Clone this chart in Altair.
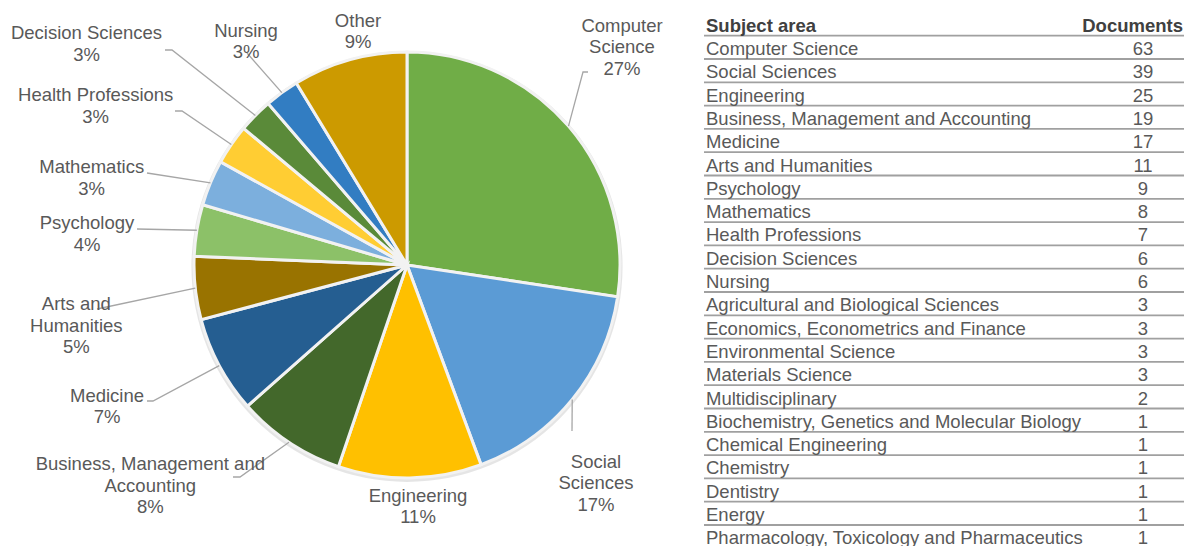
import math
import altair as alt
import pandas as pd

# ---------------- data ----------------
subjects = [
    "Computer Science", "Social Sciences", "Engineering",
    "Business, Management and Accounting", "Medicine", "Arts and Humanities",
    "Psychology", "Mathematics", "Health Professions", "Decision Sciences",
    "Nursing", "Agricultural and Biological Sciences",
    "Economics, Econometrics and Finance", "Environmental Science",
    "Materials Science", "Multidisciplinary",
    "Biochemistry, Genetics and Molecular Biology", "Chemical Engineering",
    "Chemistry", "Dentistry", "Energy",
    "Pharmacology, Toxicology and Pharmaceutics",
]
documents = [63, 39, 25, 19, 17, 11, 9, 8, 7, 6, 6, 3, 3, 3, 3, 2, 1, 1, 1, 1, 1, 1]

N_PIE = 11  # the first 11 subjects get their own slice, the rest form "Other"
pie_names = subjects[:N_PIE] + ["Other"]
pie_counts = documents[:N_PIE] + [sum(documents[N_PIE:])]
pie_label_names = [
    "Computer\nScience", "Social\nSciences", "Engineering",
    "Business, Management and\nAccounting", "Medicine", "Arts and\nHumanities",
    "Psychology", "Mathematics", "Health Professions", "Decision Sciences",
    "Nursing", "Other",
]

# ---------------- style / layout ----------------
pie_colors = ["#70AD47", "#5B9BD5", "#FFC000", "#43682B", "#255E91", "#997300",
              "#8CC168", "#7CAFDD", "#FFCD33", "#5A8A39", "#327DC2", "#CC9A00"]
FONT = "Liberation Sans"
TXT = "#595959"
W, H = 1176, 538
CX, CY, R = 399, 257, 213          # pie centre and radius (px)

# label block placement relative to pie centre (px, first baseline)
label_offset = [(215, -233.5), (189, 202.5), (11, 236.5), (-256.7, 205),
                (-300, 136.7), (-330.7, 45), (-320, -35.7), (-315.3, -91.7),
                (-311.3, -164), (-320.5, -225.7), (-161, -228.3), (-49, -238.3)]
# leader line points on the label side (px, relative to pie centre)
leader_start = [[(181, -193), (176, -193)], [(165, 166)], [],
                [(-174, 212), (-167, 212)], [(-260, 136), (-254, 136)],
                [(-310, 44)], [(-270, -36)], [(-260, -92)],
                [(-232, -154), (-225, -154)], [(-242, -215), (-235, -215)],
                [(-160, -212)], []]

ROW0, ROWH = 17.7, 23.3             # table: header centre and row pitch (px)
COL_SUBJ, COL_DOC = 698, 1135

total = sum(pie_counts)

# ---------------- pie ----------------
pie_df = pd.DataFrame({"subject": pie_names, "count": pie_counts,
                       "order": list(range(len(pie_names)))})

xs = alt.Scale(domain=[-CX / R, (W - CX) / R], nice=False, zero=False)
ys = alt.Scale(domain=[-(H - CY) / R, CY / R], nice=False, zero=False)

shadow = alt.Chart(pd.DataFrame({"count": [total]})).mark_arc(
    radius=R + 2.5, color="#000000", opacity=0.10
).encode(theta=alt.Theta("count:Q"), x=alt.value(CX), y=alt.value(CY + 1.5))

arcs = alt.Chart(pie_df).mark_arc(
    radius=R, stroke="#F2F2F2", strokeWidth=3
).encode(
    theta=alt.Theta("count:Q", stack=True),
    order=alt.Order("order:Q"),
    color=alt.Color("subject:N", scale=alt.Scale(domain=pie_names, range=pie_colors),
                    legend=None),
    x=alt.value(CX), y=alt.value(CY),
)

# leader lines and labels
cum = 0
lead_rows, lab_rows = [], []
for i, (name, c) in enumerate(zip(pie_names, pie_counts)):
    mid = (cum + c / 2) / total * 2 * math.pi
    cum += c
    ex, ey = math.sin(mid), math.cos(mid)          # edge point in radius units
    pts = [(dx / R, -dy / R) for dx, dy in leader_start[i]]
    if pts:
        pts.append((ex, ey))
        for k, (px, py) in enumerate(pts):
            lead_rows.append({"label": name, "k": k, "ux": px, "uy": py})
    pct = round(c / total * 100)
    lx, ly = label_offset[i]
    lab_rows.append({"label": name, "text": f"{pie_label_names[i]}\n{pct}%",
                     "ux": lx / R, "uy": -ly / R})

lead_df = pd.DataFrame(lead_rows)
lab_df = pd.DataFrame(lab_rows)

leaders = alt.Chart(lead_df).mark_line(color="#A6A6A6", strokeWidth=1.3).encode(
    x=alt.X("ux:Q", scale=xs, axis=None),
    y=alt.Y("uy:Q", scale=ys, axis=None),
    detail="label:N",
    order="k:Q",
)

labels = alt.Chart(lab_df).mark_text(
    align="center", baseline="alphabetic", lineBreak="\n", lineHeight=21.6,
    fontSize=18.5, font=FONT, color=TXT
).encode(
    x=alt.X("ux:Q", scale=xs, axis=None),
    y=alt.Y("uy:Q", scale=ys, axis=None),
    text="text:N",
)

pie_layer = alt.layer(shadow, arcs, leaders, labels)

# ---------------- table ----------------
tbl_df = pd.DataFrame({"subject": subjects,
                       "docs": [str(d) for d in documents],
                       "row": list(range(1, len(subjects) + 1))})
hdr_df = pd.DataFrame({"subject": ["Subject area"], "docs": ["Documents"], "row": [0]})
line_df = pd.DataFrame({"line": [r + 0.43 for r in range(0, len(subjects) + 1)]})

ts = alt.Scale(domain=[-ROW0 / ROWH, (H - ROW0) / ROWH], reverse=True, nice=False, zero=False)

rules = alt.Chart(line_df).mark_rule(color="#A0A0A0", strokeWidth=1.8).encode(
    y=alt.Y("line:Q", scale=ts, axis=None),
    x=alt.value(COL_SUBJ - 2), x2=alt.value(W),
)
subj_txt = alt.Chart(tbl_df).mark_text(
    align="left", baseline="middle", dy=0, fontSize=18.5, font=FONT, color=TXT
).encode(y=alt.Y("row:Q", scale=ts, axis=None), x=alt.value(COL_SUBJ), text="subject:N")
doc_txt = alt.Chart(tbl_df).mark_text(
    align="center", baseline="middle", dy=0, fontSize=18.5, font=FONT, color=TXT
).encode(y=alt.Y("row:Q", scale=ts, axis=None), x=alt.value(COL_DOC), text="docs:N")
hdr_subj = alt.Chart(hdr_df).mark_text(
    align="left", baseline="middle", dy=0, fontSize=18.5, font=FONT,
    fontWeight="bold", color="#404040"
).encode(y=alt.Y("row:Q", scale=ts, axis=None), x=alt.value(COL_SUBJ), text="subject:N")
hdr_doc = alt.Chart(hdr_df).mark_text(
    align="right", baseline="middle", dy=0, fontSize=18.5, font=FONT,
    fontWeight="bold", color="#404040"
).encode(y=alt.Y("row:Q", scale=ts, axis=None), x=alt.value(W - 1), text="docs:N")

table_layer = alt.layer(rules, subj_txt, doc_txt, hdr_subj, hdr_doc)

chart = alt.layer(pie_layer, table_layer).resolve_scale(
    x="independent", y="independent"
).properties(
    width=W, height=H, padding=0, autosize=alt.AutoSizeParams(type="none"),
    background="white",
).configure_view(stroke=None)

chart.save("out.html", embed_options={"renderer": "svg", "actions": False})
